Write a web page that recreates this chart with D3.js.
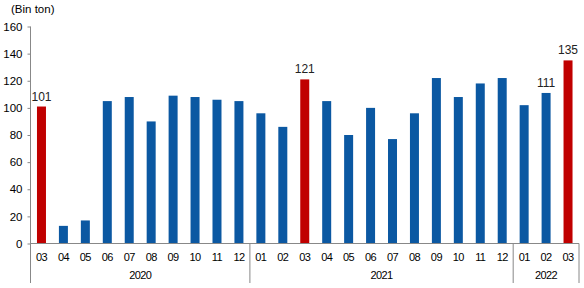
<!DOCTYPE html>
<html>
<head>
<meta charset="utf-8">
<script src="https://cdn.jsdelivr.net/npm/d3@7"></script>
<style>
  body { margin: 0; background: #fff; }
  text { font-family: "Liberation Sans", Arial, sans-serif; fill: #000; }
</style>
</head>
<body>
<svg id="chart" width="584" height="288"></svg>
<script>
// aylar (03/2020 - 03/2022)
const months = ['03','04','05','06','07','08','09','10','11','12',
                '01','02','03','04','05','06','07','08','09','10','11','12',
                '01','02','03'];
const years = ['2020', '2021', '2022'];
const yearCounts = [10, 12, 3];
const values = [101, 13, 17, 105, 108, 90, 109, 108, 106, 105,
                96, 86, 121, 105, 80, 100, 77, 96, 122, 108, 118, 122,
                102, 111, 135];
// kırmızı çubuklar (mart ayları)
const highlighted = [0, 12, 24];
// değeri yazılan çubuklar
const labelled = [0, 12, 23, 24];
const yTicks = [0, 20, 40, 60, 80, 100, 120, 140, 160];

const svg = d3.select('#chart');
const plotLeft = 30.5, plotRight = 579, plotTop = 26.5, plotBottom = 243.5;

const ids = months.map((m, i) => i);
const x = d3.scaleBand()
    .domain(ids)
    .range([plotLeft, plotRight])
    .paddingInner(0.59)
    .paddingOuter(0.295);

const y = d3.scaleLinear().domain([0, 160]).range([plotBottom, plotTop]);

// çubuklar
svg.append('g')
    .selectAll('rect')
    .data(values)
    .enter()
    .append('rect')
    .attr('x', (d, i) => x(i))
    .attr('y', d => y(d))
    .attr('width', x.bandwidth())
    .attr('height', d => y(0) - y(d))
    .attr('fill', (d, i) => highlighted.includes(i) ? '#c00000' : '#0b58a2');

// değer etiketleri
svg.append('g')
    .selectAll('text')
    .data(labelled)
    .enter()
    .append('text')
    .attr('x', i => x(i) + x.bandwidth() / 2)
    .attr('y', i => y(values[i]) - 6)
    .attr('text-anchor', 'middle')
    .attr('font-size', 12)
    .style('fill', '#222')
    .text(i => values[i]);

// y ekseni
const yAxis = svg.append('g')
    .attr('transform', `translate(${plotLeft},0)`)
    .call(d3.axisLeft(y).tickValues(yTicks).tickSize(3).tickPadding(5));
yAxis.select('.domain').remove();
yAxis.selectAll('line').attr('stroke', '#888');
yAxis.selectAll('text').attr('font-size', 11.5).attr('font-family', '"Liberation Sans", Arial, sans-serif').style('fill', '#000');
svg.append('line')
    .attr('x1', plotLeft).attr('x2', plotLeft)
    .attr('y1', plotTop).attr('y2', 283)
    .attr('stroke', '#888');

// x ekseni
svg.append('line')
    .attr('x1', plotLeft).attr('x2', plotRight)
    .attr('y1', plotBottom).attr('y2', plotBottom)
    .attr('stroke', '#888');

svg.append('g')
    .selectAll('text')
    .data(months)
    .enter()
    .append('text')
    .attr('x', (d, i) => x(i) + x.bandwidth() / 2)
    .attr('y', 261)
    .attr('text-anchor', 'middle')
    .attr('font-size', 11)
    .attr('letter-spacing', -0.6)
    .text(d => d);

// yıl grupları
let start = 0;
const step = x.step();
years.forEach((yr, k) => {
    const x0 = plotLeft + start * step;
    const x1 = plotLeft + (start + yearCounts[k]) * step;
    svg.append('line')
        .attr('x1', x1).attr('x2', x1)
        .attr('y1', plotBottom).attr('y2', 283)
        .attr('stroke', '#888');
    svg.append('text')
        .attr('x', (x0 + x1) / 2)
        .attr('y', 279)
        .attr('text-anchor', 'middle')
        .attr('font-size', 11)
        .attr('letter-spacing', -0.6)
        .text(yr);
    start += yearCounts[k];
});

// birim
svg.append('text')
    .attr('x', 11)
    .attr('y', 13)
    .attr('font-size', 11.5)
    .text('(Bin ton)');
</script>
</body>
</html>
